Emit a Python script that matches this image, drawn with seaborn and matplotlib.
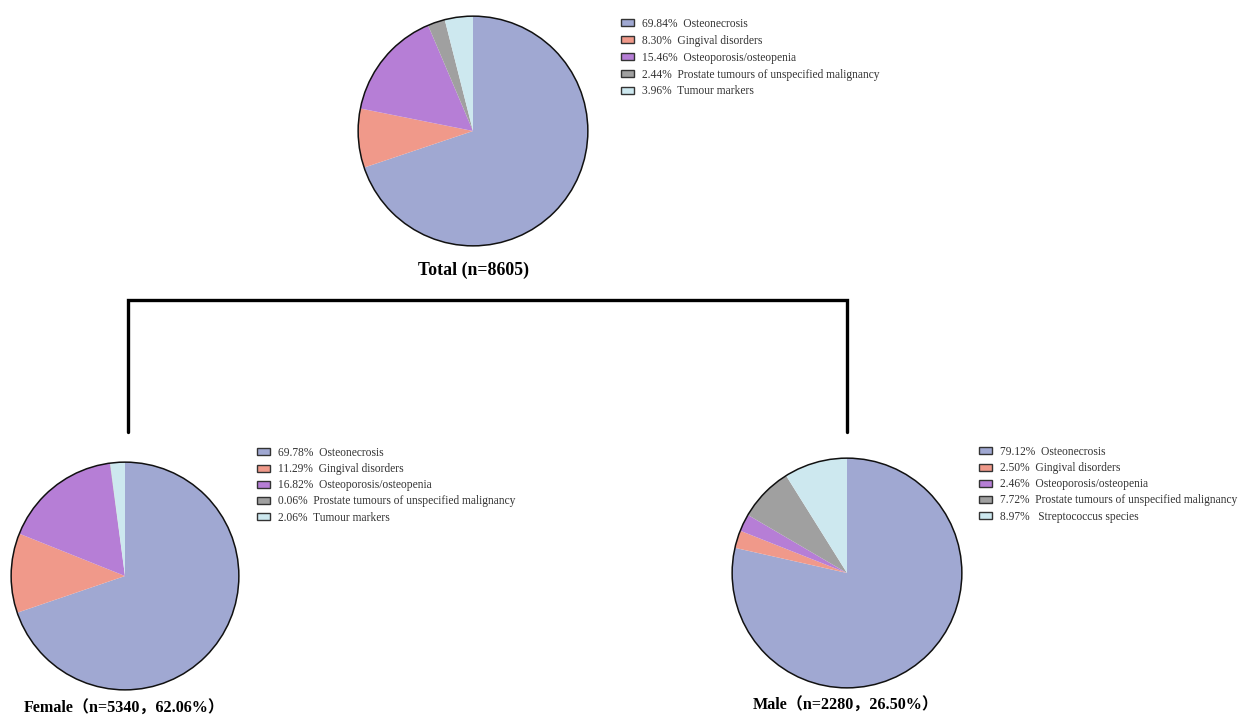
import matplotlib
matplotlib.use("Agg")
import matplotlib.pyplot as plt
import matplotlib.patches as mpatches
import seaborn as sns

sns.set_theme(style="white")
plt.rcParams['font.family'] = ['Liberation Serif', 'Noto Sans CJK SC', 'DejaVu Sans']

# Data
total_labels = ["Osteonecrosis", "Gingival disorders", "Osteoporosis/osteopenia",
                "Prostate tumours of unspecified malignancy", "Tumour markers"]
total_pct = [69.84, 8.30, 15.46, 2.44, 3.96]

female_labels = ["Osteonecrosis", "Gingival disorders", "Osteoporosis/osteopenia",
                 "Prostate tumours of unspecified malignancy", "Tumour markers"]
female_pct = [69.78, 11.29, 16.82, 0.06, 2.06]

male_labels = ["Osteonecrosis", "Gingival disorders", "Osteoporosis/osteopenia",
               "Prostate tumours of unspecified malignancy", " Streptococcus species"]
male_pct = [79.12, 2.50, 2.46, 7.72, 8.97]

colors = sns.color_palette(["#A0A8D2", "#F0998A", "#B67ED6", "#A0A0A0", "#CDE8EF"])

W, H = 1242, 716
fig = plt.figure(figsize=(W / 100, H / 100), dpi=100)


def px_axes(cx, cy, r):
    return fig.add_axes([(cx - r) / W, (H - cy - r) / H, 2 * r / W, 2 * r / H])


def draw_pie(cx, cy, r, pct, labels, leg_x, leg_y, spacing):
    ax = px_axes(cx, cy, r)
    ax.pie(pct, colors=colors, startangle=90, counterclock=False,
           wedgeprops=dict(linewidth=0))
    ax.add_patch(mpatches.Circle((0, 0), 1, fill=False, edgecolor="#111111", lw=1.1))
    ax.set_xlim(-1.01, 1.01)
    ax.set_ylim(-1.01, 1.01)
    ax.set_aspect("equal")
    ax.axis("off")
    handles = [mpatches.Patch(facecolor=c, edgecolor="#333333", lw=1.0) for c in colors]
    texts = [f"{p:.2f}%  {l}" for p, l in zip(pct, labels)]
    fig.legend(handles, texts, loc="upper left",
               bbox_to_anchor=(leg_x / W, 1 - leg_y / H), frameon=False,
               fontsize=8.3, handlelength=1.15, handleheight=0.55, handletextpad=0.65,
               labelspacing=spacing, borderpad=0, borderaxespad=0, labelcolor="#333333")


draw_pie(473, 131, 116, total_pct, total_labels, 621, 18, 0.42)
draw_pie(125, 576, 115, female_pct, female_labels, 257, 447, 0.36)
draw_pie(847, 573, 116, male_pct, male_labels, 979, 446, 0.36)

# overlay for connector lines and titles
ov = fig.add_axes([0, 0, 1, 1], zorder=-1)
ov.set_xlim(0, W)
ov.set_ylim(H, 0)
ov.axis("off")
ov.plot([128, 128, 847, 847], [432, 300, 300, 432], color="black", lw=2.4,
        solid_joinstyle="miter")

ov.text(473, 270, "Total (n=8605)", ha="center", va="center",
        fontsize=12.8, fontweight="bold", color="black")
ov.text(124, 709, "Female（n=5340，62.06%）", ha="center", va="center",
        fontsize=11.6, fontweight="bold", color="black")
ov.text(846, 706, "Male（n=2280，26.50%）", ha="center", va="center",
        fontsize=11.6, fontweight="bold", color="black")

fig.savefig("out.png", dpi=100)
